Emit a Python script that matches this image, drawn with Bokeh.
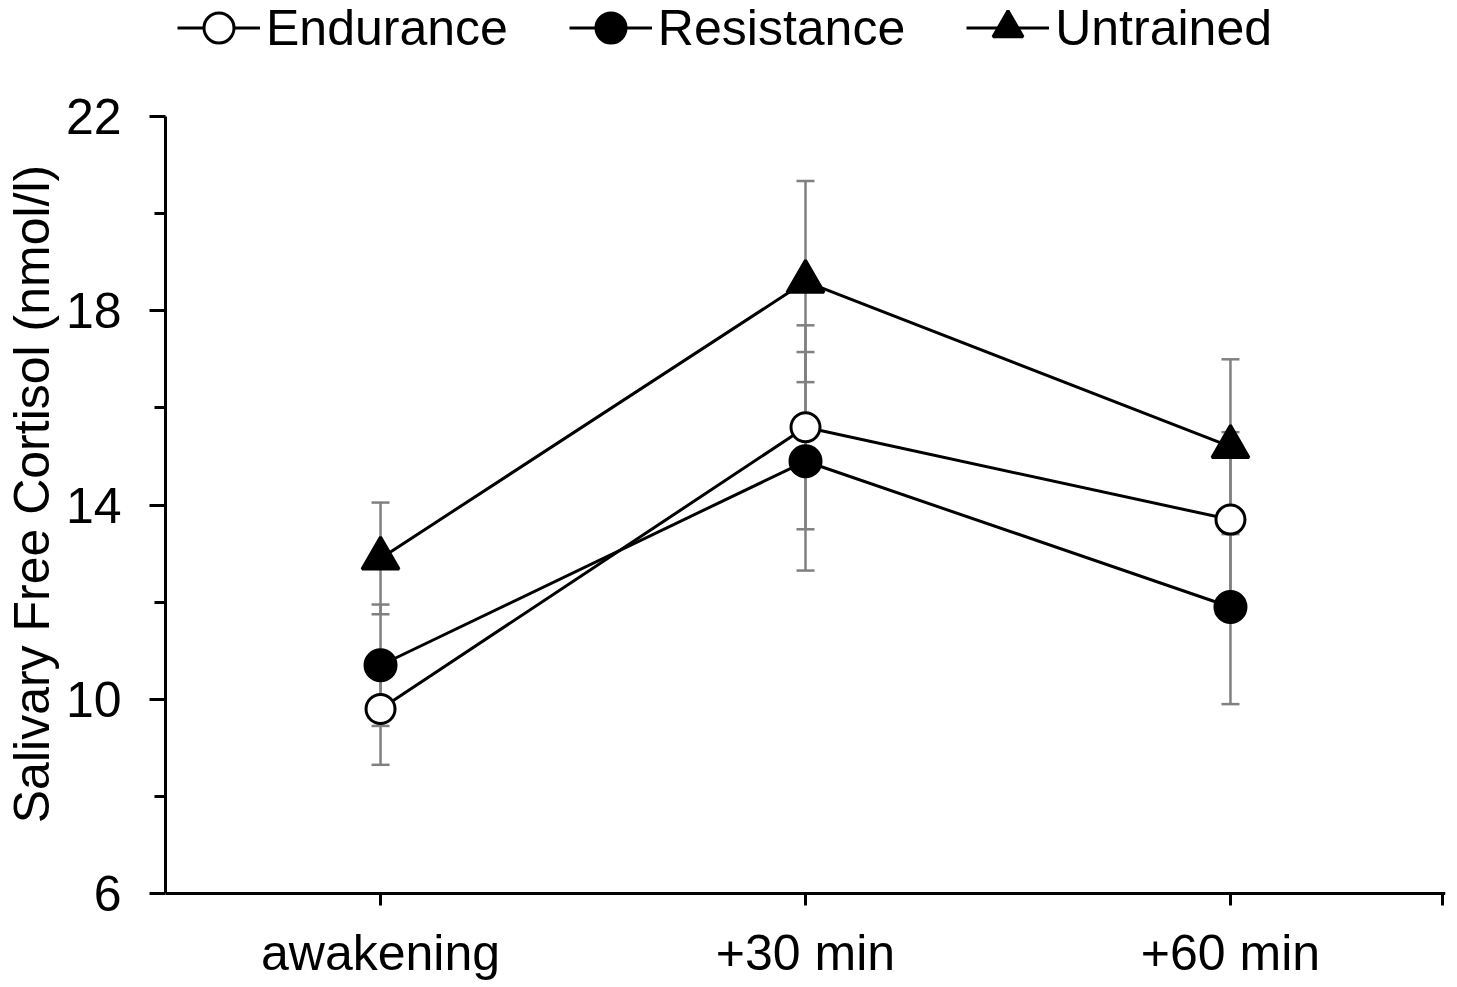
from bokeh.plotting import figure
from bokeh.models import (ColumnDataSource, Whisker, TeeHead, Legend, LegendItem,
                          FixedTicker, Range1d)
from bokeh.embed import file_html
from bokeh.resources import INLINE

times = ["awakening", "+30 min", "+60 min"]
xpos = [0, 1, 2]

endurance = [9.8, 15.6, 13.7]
endurance_se = [1.15, 2.1, 1.8]
resistance = [10.7, 14.9, 11.9]
resistance_se = [1.25, 2.25, 2.0]
untrained = [12.9, 18.6, 15.2]
untrained_se = [1.15, 2.07, 1.8]

y_ticks = [6, 10, 14, 18, 22]
y_minor = [8, 12, 16, 20]

FONT = "Liberation Sans"
FS = "50px"

# the frame fills the canvas height (room for legend above and tick labels
# below); the axes are bounded/fixed at the 6..22 data window
px_per_unit = 777 / 16
y_top = 22 + 116 / px_per_unit
y_bot = 6 - 94 / px_per_unit

p = figure(width=1457, height=987, output_backend="svg", toolbar_location=None,
           x_range=Range1d(-0.506, 2.506), y_range=Range1d(y_bot, y_top),
           min_border_left=165, min_border_right=12, min_border_top=0,
           min_border_bottom=0)
p.grid.visible = False
p.outline_line_color = None
p.background_fill_color = "white"
p.border_fill_color = "white"

# axes
p.xaxis.ticker = FixedTicker(ticks=xpos, minor_ticks=[2.5])
p.xaxis.major_label_overrides = {i: t for i, t in zip(xpos, times)}
p.xaxis.fixed_location = 6
p.yaxis.ticker = FixedTicker(ticks=y_ticks, minor_ticks=y_minor)
p.yaxis.bounds = (6, 22)
p.yaxis.axis_label = "Salivary Free Cortisol (nmol/l)"

for ax in (p.xaxis, p.yaxis):
    ax.axis_line_color = "black"
    ax.axis_line_width = 3
    ax.major_tick_line_color = "black"
    ax.major_tick_line_width = 3
    ax.minor_tick_line_color = "black"
    ax.minor_tick_line_width = 3
    ax.major_tick_in = 0
    ax.minor_tick_in = 0
    ax.major_label_text_font = FONT
    ax.major_label_text_font_size = FS
    ax.major_label_text_color = "black"
    ax.axis_label_text_font = FONT
    ax.axis_label_text_font_size = FS
    ax.axis_label_text_font_style = "normal"
    ax.axis_label_text_color = "black"

p.xaxis.major_tick_out = 12
p.xaxis.minor_tick_out = 12
p.xaxis.major_label_standoff = 19
p.yaxis.major_tick_out = 16
p.yaxis.minor_tick_out = 11
p.yaxis.major_label_standoff = 28
p.yaxis.axis_label_standoff = 3

series = [
    ("Endurance", endurance, endurance_se, "circle", "white", 29),
    ("Resistance", resistance, resistance_se, "circle", "black", 31),
    ("Untrained", untrained, untrained_se, "triangle", "black", 37),
]

items = []
for name, vals, se, marker, fill, size in series:
    src = ColumnDataSource(dict(
        x=xpos, y=vals,
        upper=[v + e for v, e in zip(vals, se)],
        lower=[v - e for v, e in zip(vals, se)],
    ))
    w = Whisker(source=src, base="x", upper="upper", lower="lower",
                line_color="#808080", line_width=2.5, level="underlay",
                upper_head=TeeHead(size=18, line_color="#808080", line_width=2.5),
                lower_head=TeeHead(size=18, line_color="#808080", line_width=2.5))
    p.add_layout(w)
    lr = p.line("x", "y", source=src, line_color="black", line_width=3)
    items.append((name, lr, src, marker, fill, size))

legend_items = []
for name, lr, src, marker, fill, size in items:
    sr = p.scatter("x", "y", source=src, marker=marker, size=size,
                   fill_color=fill, line_color="black", line_width=3)
    legend_items.append(LegendItem(label=name, renderers=[lr, sr]))

legend = Legend(items=legend_items, orientation="horizontal",
                location=(12, 987 - 75 + 10), glyph_width=83, glyph_height=75,
                label_standoff=6, spacing=61, padding=0, margin=0,
                border_line_color=None, background_fill_alpha=0,
                label_text_font=FONT, label_text_font_size=FS,
                label_text_color="black")
p.add_layout(legend, "center")

open("out.html", "w").write(file_html(p, INLINE))
